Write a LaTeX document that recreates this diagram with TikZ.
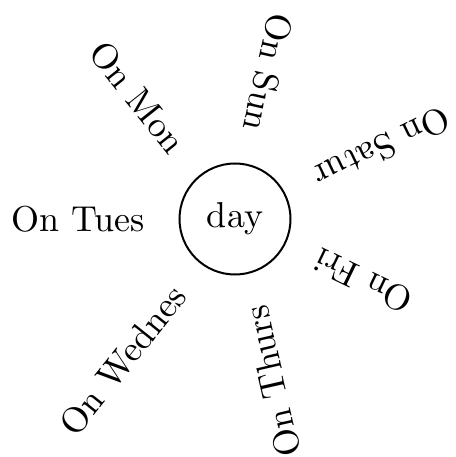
\documentclass[tikz,border=0pt]{standalone}
\usepackage{graphicx}
\begin{document}
\begin{tikzpicture}[x=1pt,y=1pt,
  daylabel/.style={anchor=east, inner sep=0pt},
  hub/.style={circle, draw, line width=2pt, minimum size=111pt, inner sep=0pt}]
\useasboundingbox (-235,-238) rectangle (220,219);
\node[hub] (day) at (0,0) {\scalebox{3.6}{day}};
\foreach \d [count=\i from 0] in {Sun,Mon,Tues,Wednes,Thurs,Fri,Satur} {
  \pgfmathsetmacro\ang{77.14+\i*51.43}
  \node[daylabel, rotate=\ang+180] (l\i) at (\ang:90) {\scalebox{3.6}{On \d}};
}
\end{tikzpicture}
\end{document}
